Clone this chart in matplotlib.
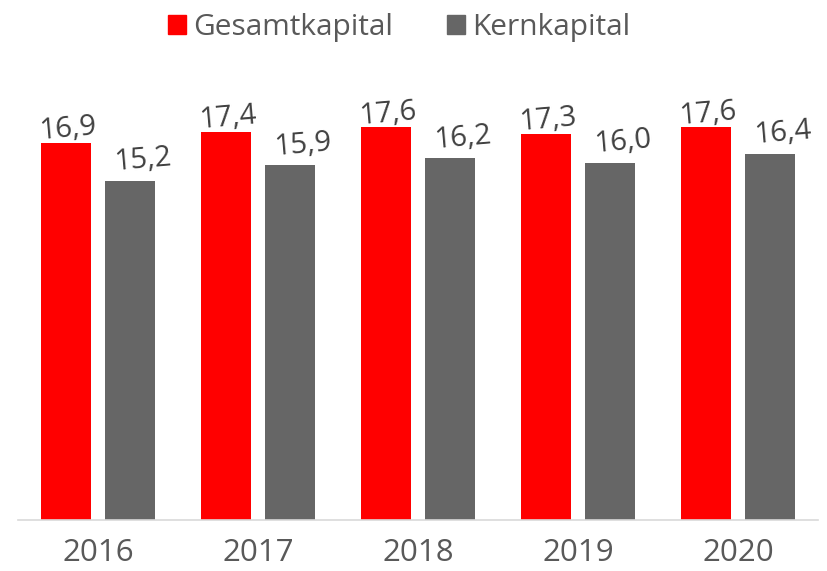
import numpy as np
import matplotlib
matplotlib.use('Agg')
import matplotlib.pyplot as plt
from matplotlib.patches import Patch

plt.rcParams['font.family'] = ['Open Sans', 'DejaVu Sans']

years = ['2016', '2017', '2018', '2019', '2020']
gesamtkapital = [16.9, 17.4, 17.6, 17.3, 17.6]
kernkapital = [15.2, 15.9, 16.2, 16.0, 16.4]

red = '#ff0000'
grey = '#666666'
px = 22.32  # pixels per unit on y

fig = plt.figure(figsize=(8.27, 5.71), dpi=100)
# axes box in pixel coordinates: x 18..818, baseline at y=520, top at y=60
ax = fig.add_axes([18 / 827, 51 / 571, 800 / 827, 460 / 571])

x = np.arange(len(years))
w = 0.3125
off = 0.2
b1 = ax.bar(x - off, gesamtkapital, w, color=red)
b2 = ax.bar(x + off, kernkapital, w, color=grey)

# value labels, slightly tilted like in the original
for bars, vals, dx, dy in ((b1, gesamtkapital, 0.015, 6), (b2, kernkapital, 0.085, 13)):
    for rect, v in zip(bars, vals):
        ax.text(rect.get_x() + rect.get_width() / 2 + dx, v + dy / px,
                f'{v:.1f}'.replace('.', ','), ha='center', va='baseline',
                rotation=5, rotation_mode='anchor', fontsize=21, color='#404040')

ax.set_xlim(-0.5, len(years) - 0.5)
ax.set_ylim(0, 460 / px)
ax.set_xticks(x)
ax.set_xticklabels(years, fontsize=22.5, color='#595959')
ax.tick_params(axis='x', length=0, pad=13)
ax.set_yticks([])
for s in ('top', 'right', 'left'):
    ax.spines[s].set_visible(False)
ax.spines['bottom'].set_color('#d9d9d9')
ax.spines['bottom'].set_linewidth(1.2)

handles = [Patch(color=red, label='Gesamtkapital'), Patch(color=grey, label='Kernkapital')]
fig.legend(handles=handles, loc='upper center', bbox_to_anchor=(0.4825, 1.025), ncol=2,
           frameon=False, fontsize=21.5, handlelength=0.6, handleheight=0.6,
           handletextpad=0.25, columnspacing=1.8, labelcolor='#595959')

fig.savefig('out.png', dpi=100)
